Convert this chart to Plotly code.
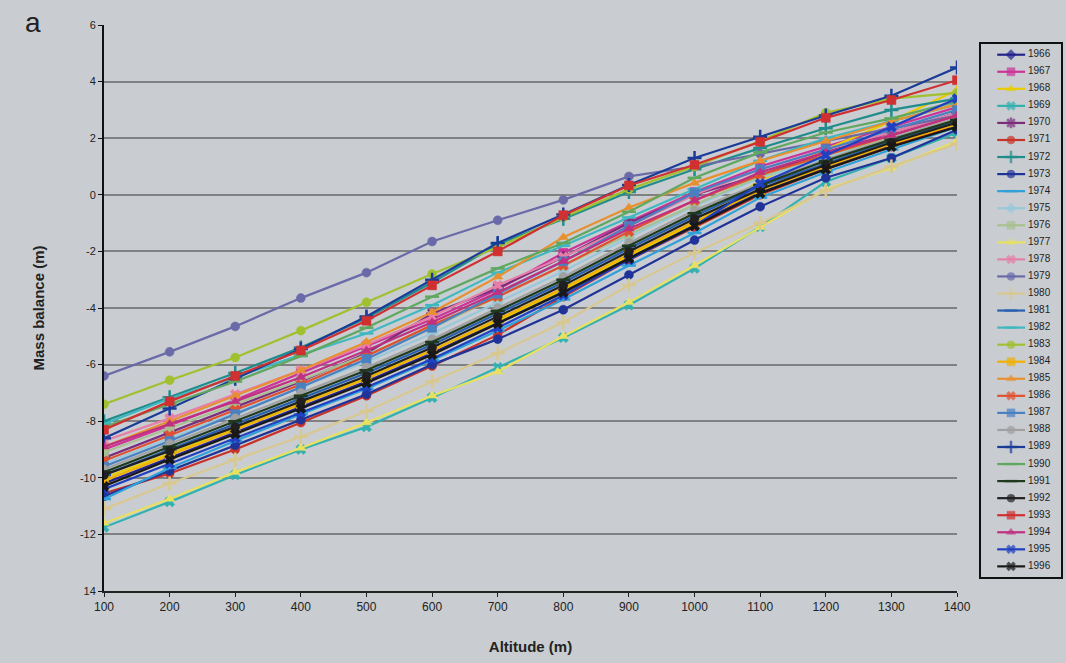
import plotly.graph_objects as go

# Altitude bands (m)
altitude = [100, 200, 300, 400, 500, 600, 700, 800, 900, 1000, 1100, 1200, 1300, 1400]

# Annual mass balance profiles (m) per year
mb_1966 = [-10.2, -9.3, -8.4, -7.5, -6.6, -5.6, -4.5, -3.4, -2.2, -1.05, 0.1, 0.95, 1.75, 2.45]
mb_1967 = [-9.0, -8.15, -7.25, -6.3, -5.35, -4.4, -3.35, -2.05, -0.95, 0.1, 1.0, 1.7, 2.4, 3.1]
mb_1968 = [-10.0, -9.15, -8.25, -7.35, -6.45, -5.5, -4.45, -3.35, -2.15, -1.0, 0.5, 1.6, 2.6, 3.7]
mb_1969 = [-11.75, -10.85, -9.9, -9.0, -8.2, -7.17, -6.1, -5.05, -3.9, -2.6, -1.13, 0.46, 1.3, 2.2]
mb_1970 = [-9.3, -8.4, -7.5, -6.6, -5.6, -4.2, -3.3, -2.2, -1.0, 0.0, 0.7, 1.5, 2.2, 2.9]
mb_1971 = [-10.55, -9.85, -9.0, -8.05, -7.1, -6.05, -4.95, -3.6, -2.3, -1.15, 0.0, 0.9, 1.7, 2.5]
mb_1972 = [-8.0, -7.15, -6.3, -5.4, -4.35, -3.1, -1.75, -0.85, 0.1, 0.9, 1.65, 2.35, 3.0, 3.4]
mb_1973 = [-10.65, -9.75, -8.85, -7.95, -7.05, -6.0, -5.1, -4.06, -2.83, -1.6, -0.42, 0.6, 1.3, 2.3]
mb_1974 = [-10.75, -9.65, -8.7, -7.75, -6.85, -5.85, -4.8, -3.7, -2.5, -1.35, -0.1, 0.8, 1.6, 2.4]
mb_1975 = [-9.5, -8.6, -7.7, -6.8, -5.9, -4.9, -3.8, -2.7, -1.5, -0.4, 0.6, 1.3, 2.0, 2.7]
mb_1976 = [-9.1, -8.25, -7.4, -6.55, -5.65, -4.7, -3.6, -2.5, -1.4, -0.35, 0.65, 1.4, 2.0, 2.6]
mb_1977 = [-11.6, -10.75, -9.8, -8.95, -8.05, -7.1, -6.25, -5.0, -3.8, -2.5, -1.15, 0.2, 0.95, 1.9]
mb_1978 = [-8.7, -7.9, -7.05, -6.2, -5.3, -4.3, -3.2, -2.2, -1.1, 0.0, 0.9, 1.6, 2.2, 2.9]
mb_1979 = [-6.4, -5.55, -4.65, -3.65, -2.75, -1.65, -0.9, -0.18, 0.65, 1.0, 1.45, 1.9, 2.35, 2.8]
mb_1980 = [-11.1, -10.2, -9.35, -8.55, -7.65, -6.6, -5.6, -4.5, -3.2, -2.05, -1.0, 0.15, 1.0, 1.8]
mb_1981 = [-9.9, -9.0, -8.1, -7.2, -6.3, -5.3, -4.2, -3.1, -1.9, -0.75, 0.3, 1.1, 1.9, 2.6]
mb_1982 = [-8.1, -7.2, -6.45, -5.65, -4.9, -3.9, -2.75, -1.8, -0.8, 0.2, 1.2, 2.0, 2.6, 3.2]
mb_1983 = [-7.4, -6.55, -5.75, -4.8, -3.8, -2.8, -1.85, -0.8, 0.2, 1.0, 1.9, 2.9, 3.4, 3.6]
mb_1984 = [-10.1, -9.2, -8.3, -7.4, -6.5, -5.5, -4.4, -3.3, -2.1, -0.95, 0.15, 1.0, 1.8, 2.5]
mb_1985 = [-8.9, -8.0, -7.1, -6.2, -5.2, -4.15, -2.9, -1.5, -0.45, 0.42, 1.2, 1.9, 2.6, 3.2]
mb_1986 = [-9.4, -8.5, -7.6, -6.7, -5.7, -4.6, -3.6, -2.5, -1.3, -0.2, 0.7, 1.4, 2.1, 2.8]
mb_1987 = [-9.6, -8.7, -7.75, -6.8, -5.8, -4.7, -3.5, -2.35, -1.1, 0.07, 0.9, 1.6, 2.3, 3.0]
mb_1988 = [-9.7, -8.8, -7.9, -7.0, -6.1, -5.1, -4.0, -2.9, -1.7, -0.55, 0.4, 1.25, 2.0, 2.7]
mb_1989 = [-8.6, -7.55, -6.5, -5.45, -4.3, -3.0, -1.7, -0.7, 0.35, 1.3, 2.05, 2.8, 3.5, 4.5]
mb_1990 = [-8.2, -7.4, -6.6, -5.7, -4.7, -3.6, -2.6, -1.7, -0.6, 0.6, 1.5, 2.2, 2.7, 3.3]
mb_1991 = [-9.8, -8.9, -8.0, -7.1, -6.2, -5.2, -4.1, -3.0, -1.8, -0.65, 0.35, 1.2, 1.95, 2.65]
mb_1992 = [-9.9, -9.05, -8.2, -7.3, -6.4, -5.4, -4.3, -3.2, -2.0, -0.85, 0.2, 1.05, 1.85, 2.55]
mb_1993 = [-8.3, -7.3, -6.4, -5.5, -4.45, -3.2, -2.0, -0.72, 0.33, 1.06, 1.87, 2.72, 3.35, 4.05]
mb_1994 = [-8.9, -8.1, -7.3, -6.45, -5.5, -4.5, -3.45, -2.35, -1.2, -0.2, 0.8, 1.5, 2.1, 2.8]
mb_1995 = [-10.4, -9.5, -8.6, -7.7, -6.8, -5.8, -4.7, -3.55, -2.3, -1.1, 0.4, 1.4, 2.4, 3.4]
mb_1996 = [-10.3, -9.35, -8.45, -7.55, -6.65, -5.65, -4.55, -3.45, -2.25, -1.1, 0.05, 0.9, 1.7, 2.4]

years = list(range(1966, 1997))
profiles = [mb_1966, mb_1967, mb_1968, mb_1969, mb_1970, mb_1971, mb_1972, mb_1973,
            mb_1974, mb_1975, mb_1976, mb_1977, mb_1978, mb_1979, mb_1980, mb_1981,
            mb_1982, mb_1983, mb_1984, mb_1985, mb_1986, mb_1987, mb_1988, mb_1989,
            mb_1990, mb_1991, mb_1992, mb_1993, mb_1994, mb_1995, mb_1996]

# Axis ticks
y_tickvals = [6, 4, 2, 0, -2, -4, -6, -8, -10, -12, -14]
y_ticktext = ["6", "4", "2", "0", "-2", "-4", "-6", "-8", "-10", "-12", "14"]
x_tickvals = altitude

colors = ["#23238e", "#cc3399", "#e8cc00", "#33b0b0", "#7b2d7b", "#c83228", "#208c8c", "#1f3399",
          "#2fa0d8", "#99c8dc", "#a8c090", "#e8e060", "#e67fa8", "#6a6aa8", "#d8c890", "#2860b0",
          "#40b8c0", "#a0c030", "#f0b000", "#e89030", "#e05030", "#4a80c0", "#a0a0a0", "#1a3c98",
          "#60a860", "#1f3a1f", "#202020", "#d03030", "#c03080", "#2040c0", "#181818"]
symbols = ["diamond", "square", "triangle-up", "x", "asterisk", "circle", "cross-thin", "circle",
           "line-ew", "diamond", "square", "triangle-up", "x", "circle", "cross-thin", "line-ew",
           "line-ew", "circle", "square", "triangle-up", "x", "square", "circle", "cross-thin",
           "line-ew", "line-ew", "circle", "square", "triangle-up", "x", "x"]

bg = "#c9cdd1"
ink = "#222222"
fig = go.Figure()


def marker_style(sym, col, size):
    open_sym = sym in ("asterisk", "cross-thin", "line-ew")
    return dict(symbol=sym, size=size + (1 if open_sym else 0), color=col,
                line=dict(color=col, width=2.5 if open_sym else 0.5))


# Mass balance profiles
for yr, vals, col, sym in zip(years, profiles, colors, symbols):
    fig.add_trace(go.Scatter(
        x=altitude, y=vals, name=str(yr), mode="lines+markers",
        line=dict(color=col, width=2.2),
        marker=marker_style(sym, col, 9),
        showlegend=False,
    ))

# Key: one row per year on its own small axes, line sample + marker + label
key_line_x = [0.21, 0.378, 0.55]
for i, (yr, col, sym) in enumerate(zip(years, colors, symbols)):
    ms = marker_style(sym, col, 8)
    ms["size"] = [0, ms["size"], 0]
    fig.add_trace(go.Scatter(
        x=key_line_x, y=[i] * 3, mode="lines+markers",
        line=dict(color=col, width=2.2), marker=ms,
        xaxis="x2", yaxis="y2", showlegend=False, hoverinfo="skip",
    ))
fig.add_trace(go.Scatter(
    x=[0.585] * len(years), y=list(range(len(years))), mode="text",
    text=[str(y) for y in years], textposition="middle right",
    textfont=dict(size=10, color=ink), cliponaxis=False,
    xaxis="x2", yaxis="y2", showlegend=False, hoverinfo="skip",
))

fig.update_layout(
    width=1066, height=663,
    paper_bgcolor=bg, plot_bgcolor=bg,
    margin=dict(l=104, r=4, t=25, b=72, autoexpand=False),
    font=dict(family="Liberation Sans, Arial, sans-serif", color=ink, size=11),
    showlegend=False,
    xaxis=dict(
        domain=[0, 0.8904], automargin=False,
        range=[100, 1400], tickmode="array", tickvals=x_tickvals,
        showgrid=False, zeroline=False,
        showline=True, linecolor=ink, linewidth=1.5,
        ticks="outside", ticklen=4, tickcolor=ink,
        tickfont=dict(size=12, color=ink),
        title=dict(text="<b>Altitude (m)</b>", font=dict(size=15, color=ink), standoff=28),
    ),
    yaxis=dict(
        automargin=False,
        range=[-14, 6], tickmode="array", tickvals=y_tickvals, ticktext=y_ticktext,
        showgrid=True, gridcolor="#7f8183", gridwidth=1.5, zeroline=False,
        showline=True, linecolor="#111111", linewidth=2,
        ticks="outside", ticklen=4, tickcolor="#111111",
        tickfont=dict(size=11, color=ink),
        title=dict(text="<b>Mass balance (m)</b>", font=dict(size=15, color=ink), standoff=32),
    ),
    xaxis2=dict(domain=[0.9144, 1.0], range=[0, 1], visible=False, fixedrange=True,
                automargin=False),
    yaxis2=dict(domain=[0.023, 0.968], range=[30.68, -0.68], visible=False, fixedrange=True,
                anchor="x2", automargin=False),
    shapes=[dict(type="rect", xref="x2 domain", yref="y2 domain", x0=0, x1=1, y0=0, y1=1,
                 line=dict(color="#111111", width=2), fillcolor="rgba(0,0,0,0)")],
    annotations=[dict(text="a", x=-0.085, y=1.005, xref="paper", yref="paper",
                      xanchor="left", yanchor="middle", showarrow=False,
                      font=dict(size=28, color=ink))],
)

fig.write_html("out.html")
